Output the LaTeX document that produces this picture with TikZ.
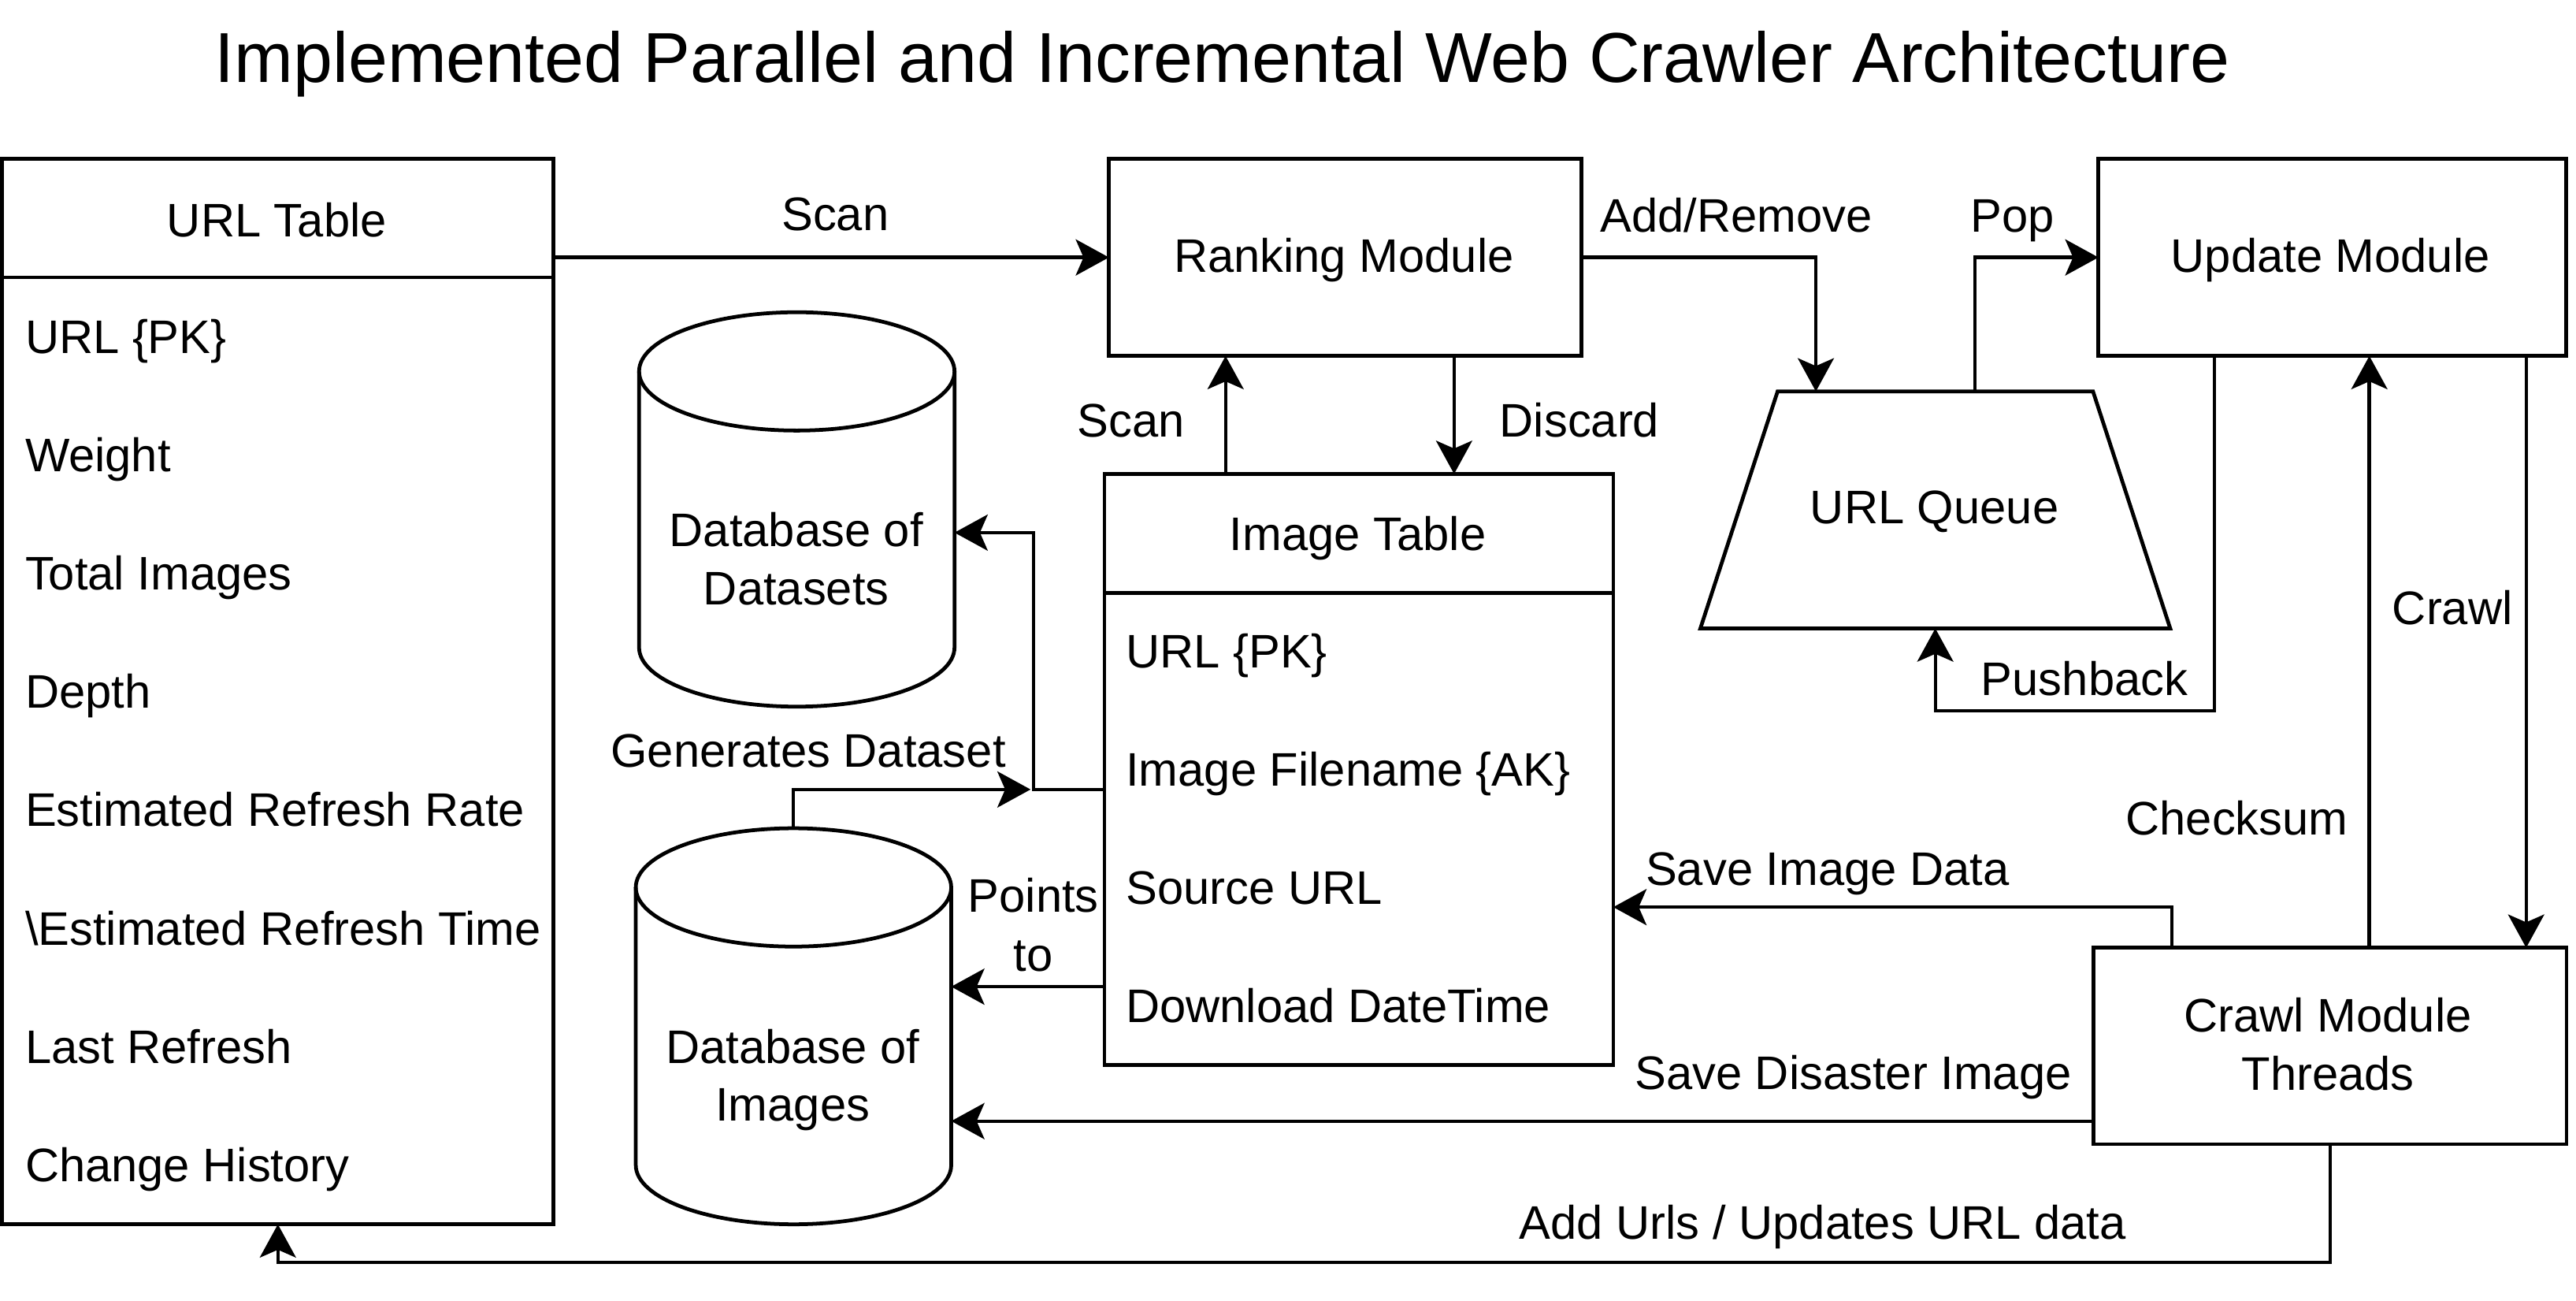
\documentclass[tikz,border=0pt]{standalone}
\usepackage{fontspec}
\setmainfont{Liberation Sans}
\usetikzlibrary{arrows.meta,calc,fit}
\newcommand\dbcyl[4]{%
  \pgfmathsetmacro\cx{(#1+#2)/2}\pgfmathsetmacro\rx{(#2-#1)/2}%
  \pgfmathsetmacro\ya{#3+36}\pgfmathsetmacro\yb{#4-36}%
  \pgfmathsetmacro\kx{0.5523*\rx}\pgfmathsetmacro\yk{\yb+0.5523*36}%
  \draw[outline] (#1,\ya) -- (#1,\yb) .. controls (#1,\yk) and (\cx-\kx,#4) .. (\cx,#4)
     .. controls (\cx+\kx,#4) and (#2,\yk) .. (#2,\yb) -- (#2,\ya);
  \draw[outline] (\cx,\ya) ellipse [x radius=\rx, y radius=36];
}
\begin{document}
\begin{tikzpicture}[x=0.02cm,y=-0.02cm,
  outline/.style={line width=1.3pt},
  box/.style={draw,line width=1.3pt,inner sep=0pt,outer sep=0pt},
  ghost/.style={inner sep=0pt,outer sep=0pt},
  conn/.style={line width=1.2pt,-{Stealth[length=11.5pt,width=12.5pt,inset=2.7pt]}},
  lbl/.style={font=\fontsize{16.3}{19.5}\selectfont,inner sep=0pt,anchor=base},
  rowtxt/.style={lbl,anchor=base west}]
\useasboundingbox (0,0) rectangle (1568,791.2);

% title
\node[font=\fontsize{24.5}{29}\selectfont,inner sep=0pt,anchor=base] (title) at (744,50)
  {Implemented Parallel and Incremental Web Crawler Architecture};

% URL table
\node[box,fit={(1.3,96.7)(337,745)}] (urltab) {};
\draw[outline] ($(urltab.north west)+(0,72.1)$) -- ($(urltab.north east)+(0,72.1)$);
\node[lbl] (urlhead) at (168.5,144) {URL Table};
\node[rowtxt] (u1) at (15,215) {URL \{PK\}};
\node[rowtxt] (u2) at (15,287) {Weight};
\node[rowtxt] (u3) at (15,359) {Total Images};
\node[rowtxt] (u4) at (15,431) {Depth};
\node[rowtxt] (u5) at (15,503) {Estimated Refresh Rate};
\node[rowtxt] (u6) at (15,575) {\textbackslash Estimated Refresh Time};
\node[rowtxt] (u7) at (15,647) {Last Refresh};
\node[rowtxt] (u8) at (15,719) {Change History};

% modules
\node[box,fit={(675,96.7)(962.6,216.6)}] (rank) {};
\node[lbl] (ranktxt) at (818,165.6) {Ranking Module};
\node[box,fit={(1277.3,96.7)(1562,216.6)}] (upd) {};
\node[lbl] (updtxt) at (1418.5,165.6) {Update Module};
\node[box,fit={(1274.4,576.7)(1562.2,696.3)}] (crawl) {};
\node[lbl] (crawltxta) at (1417,628) {Crawl Module};
\node[lbl] (crawltxtb) at (1417,663.4) {Threads};

% URL queue
\node[ghost,fit={(1035,238.2)(1321,382.4)}] (queue) {};
\draw[outline] (queue.south west) -- ($(queue.north west)+(47,0)$) -- ($(queue.north east)+(-47,0)$) -- (queue.south east) -- cycle;
\node[lbl] (queuetxt) at (1177.5,318.6) {URL Queue};

% image table
\node[box,fit={(672.3,288.4)(982,648)}] (imgtab) {};
\draw[outline] ($(imgtab.north west)+(0,72.4)$) -- ($(imgtab.north east)+(0,72.4)$);
\node[lbl] (imghead) at (826.5,335) {Image Table};
\node[rowtxt] (i1) at (685,406.6) {URL \{PK\}};
\node[rowtxt] (i2) at (685,478.5) {Image Filename \{AK\}};
\node[rowtxt] (i3) at (685,550.3) {Source URL};
\node[rowtxt] (i4) at (685,622.2) {Download DateTime};

% databases
\node[ghost,fit={(389,190)(581,430)}] (dbset) {};
\dbcyl{389}{581}{190}{430}
\node[lbl] (dbsettxta) at (484.7,332.4) {Database of};
\node[lbl] (dbsettxtb) at (484.7,368) {Datasets};
\node[ghost,fit={(387,504)(579,745)}] (dbimg) {};
\dbcyl{387}{579}{504}{745}
\node[lbl] (dbimgtxta) at (482.5,646.9) {Database of};
\node[lbl] (dbimgtxtb) at (482.5,682.2) {Images};

% connection points
\coordinate (scanB) at ($(imgtab.north)+(-81.15,0)$);
\coordinate (discA) at ($(rank.south)+(66.3,0)$);
\coordinate (itA) at ($(imgtab.north west)+(0,192)$);
\coordinate (ptA) at ($(imgtab.north west)+(0,312)$);
\coordinate (sidA) at ($(crawl.north)+(-96.2,0)$);
\coordinate (sdA) at ($(crawl.west)+(0,45.7)$);
\coordinate (ckA) at ($(crawl.north)+(23.9,0)$);
\coordinate (crA) at ($(upd.south)+(118,0)$);
\coordinate (pbA) at ($(upd.south)+(-71.85,0)$);

% connectors
\draw[conn] (rank.west -| urltab.east) -- (rank.west);
\draw[conn] (rank.east) -| ($(queue.north)+(-72.7,0)$);
\draw[conn] ($(queue.north)+(24.2,0)$) |- (upd.west);
\draw[conn] (scanB) -- (scanB |- rank.south);
\draw[conn] (discA) -- (discA |- imgtab.north);
\draw[conn] (itA) -| ($(dbset.east)+(48,14.1)$) -- ($(dbset.east)+(0,14.1)$);
\draw[conn] (dbimg.north) |- ($(itA)+(-45,0)$);
\draw[conn] (ptA) -- (ptA -| dbimg.east);
\draw[conn] (sidA) |- ($(imgtab.east)+(0,83.8)$);
\draw[conn] (sdA) -- (sdA -| dbimg.east);
\draw[conn] (ckA) -- (ckA |- upd.south);
\draw[conn] (crA) -- (crA |- crawl.north);
\draw[conn] (pbA) |- ($(queue.south)+(0,50.1)$) -- (queue.south);
\draw[conn] (crawl.south) |- ($(urltab.south)+(0,23.2)$) -- (urltab.south);

% connector labels
\node[lbl] (lscan) at (508.4,140.3) {Scan};
\node[lbl] (laddrem) at (1057,141) {Add/Remove};
\node[lbl] (lpop) at (1225,141) {Pop};
\node[lbl] (lscan2) at (688.4,265.7) {Scan};
\node[lbl] (ldiscard) at (961.4,265.7) {Discard};
\node[lbl] (lgen) at (492,466.7) {Generates Dataset};
\node[lbl] (lpoints) at (629,555) {Points};
\node[lbl] (lto) at (629,591) {to};
\node[lbl] (lpush) at (1268.8,423.2) {Pushback};
\node[lbl] (lcrawl) at (1492.8,380.2) {Crawl};
\node[lbl] (lcheck) at (1361.6,507.9) {Checksum};
\node[lbl] (lsaveimg) at (1112.4,538.6) {Save Image Data};
\node[lbl] (lsavedis) at (1128,662.7) {Save Disaster Image};
\node[lbl] (laddurls) at (1109.5,754) {Add Urls / Updates URL data};
\end{tikzpicture}
\end{document}
